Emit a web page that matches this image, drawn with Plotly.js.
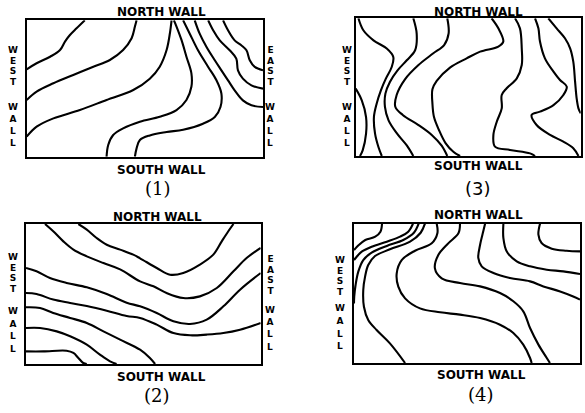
<!DOCTYPE html>
<html>
<head>
<meta charset="utf-8">
<script src="https://cdn.plot.ly/plotly-3.0.1.min.js"></script>
<style>html,body{margin:0;padding:0;background:#fff;}#chart{width:585px;height:413px;}</style>
</head>
<body>
<div id="chart"></div>
<script>
// ---------- DATA (u: west->east 0..100, v: south->north 0..100) ----------
// Panel (1)
const p1_a_u = [0, 4.2, 9.9, 14.1, 16.2, 18.3, 21.1, 24.6];
const p1_a_v = [64.1, 68.5, 73.3, 78.2, 84.4, 89.2, 94.1, 100];
const p1_b_u = [0, 4.2, 11.3, 19.7, 28.2, 35.2, 40.8, 44.4, 45.8, 46.5];
const p1_b_v = [41.6, 47.7, 53.8, 59.9, 66, 70.9, 78.2, 86.8, 95.4, 100];
const p1_c_u = [0, 4.2, 11.3, 22.5, 33.8, 45.1, 52.1, 56.3, 59.2, 60.6, 61.3];
const p1_c_v = [14.7, 22, 28.1, 34.2, 41.6, 48.9, 57.2, 66, 78.2, 90.5, 100];
const p1_d_u = [33.8, 34.5, 36.6, 40.8, 47.9, 56.3, 63.4, 67.6, 69.7, 69.7, 67.6, 65.5, 63.4, 62.3];
const p1_d_v = [0, 8.6, 15.9, 20.8, 25.7, 29.3, 34.2, 41.6, 51.3, 61.1, 73.3, 85.6, 95.4, 100];
const p1_e_u = [45.8, 46.5, 47.9, 52.1, 59.2, 66.2, 74.6, 79.6, 82, 82.4, 80.3, 76.8, 72.5, 69, 66.2];
const p1_e_v = [0, 6.1, 12.2, 15.6, 18.1, 19.8, 24.2, 29.1, 36.4, 46.2, 56, 65.8, 78, 90.2, 100];
const p1_f_u = [71.1, 73.2, 76.1, 79.6, 82.4, 85.2, 88, 91.5, 95.1, 100];
const p1_f_v = [100, 90.2, 80.4, 70.7, 63.3, 56, 48.7, 41.3, 37.7, 36.4];
const p1_g_u = [76.8, 78.9, 81.7, 85.9, 88.7, 89.4, 91.5, 95.1, 100];
const p1_g_v = [100, 92.7, 85.3, 78, 71.9, 63.3, 57.2, 52.3, 49.9];
const p1_h_u = [83.1, 85.2, 88, 90.8, 93, 94.4, 96.5, 100];
const p1_h_v = [100, 92.7, 85.3, 81.7, 78, 70.7, 65.8, 63.3];

// Panel (2)
const p2_a_u = [8.1, 11.6, 15.9, 20.2, 25.9, 33, 40.1, 48.6, 54.3, 59.9, 67, 74.1, 81.3, 88.4, 94, 100];
const p2_a_v = [100, 94.8, 87.6, 81.7, 76.9, 72.1, 67.6, 59, 55.5, 50.7, 47.1, 48.3, 54.3, 66.2, 75.7, 82.9];
const p2_b_u = [22.3, 25.9, 30.1, 34.4, 40.1, 45.7, 48.6, 55.7, 61.4, 67, 74.1, 79.8, 83.4, 86.2, 88.4];
const p2_b_v = [100, 96, 90, 85.2, 81.7, 78.1, 75.5, 68.6, 63.8, 65, 71, 78.1, 87.6, 94.8, 100];
const p2_c_u = [0, 4.5, 10.2, 17.3, 25.9, 34.4, 42.9, 48.6, 55.7, 62.8, 69.9, 77, 84.1, 91.2, 100];
const p2_c_v = [68.6, 66.2, 61.4, 57.9, 54.8, 50, 43.8, 41.2, 36.4, 30.5, 28.6, 31.7, 41.2, 53.1, 65];
const p2_d_u = [0, 4.5, 11.6, 18.8, 25.9, 34.4, 42.9, 48.6, 55.7, 62.8, 69.9, 77, 84.1, 91.2, 100];
const p2_d_v = [50.7, 50, 46, 43.6, 41.4, 38.1, 34.3, 32.9, 28.1, 22.1, 20.5, 21, 22.1, 24.5, 29.3];
const p2_e_u = [0, 6, 11.6, 18.8, 25.9, 33, 40.1, 48.6, 52.8, 55];
const p2_e_v = [40.5, 40, 36.4, 32.9, 29.3, 23.3, 17.4, 10.2, 4.3, 0];
const p2_f_u = [0, 6, 13.1, 18.8, 25.9, 31.5, 35.8, 38.6];
const p2_f_v = [25.7, 25.7, 23.3, 19.8, 13.8, 6.7, 1.9, 0];
const p2_g_u = [0, 7.4, 17.3, 20.2, 22.3, 24.4, 25.9];
const p2_g_v = [9, 9, 9.5, 7.9, 4.3, 0.7, 0];

// Panel (3)
const p3_a_u = [0, 2.7, 4.6, 4.6, 3.1, 1.9];
const p3_a_v = [48.9, 40.4, 28.3, 16.2, 4.1, 0];
const p3_b_u = [1.2, 3.4, 7.9, 13.8, 16.7, 16, 13.4, 11.2, 9.3, 8.1, 8.6, 10.1, 11.6];
const p3_b_v = [100, 91.3, 84, 78, 71.9, 64.6, 56.2, 47.7, 38, 28.3, 16.2, 6.5, 0];
const p3_c_u = [25.6, 27.1, 26.4, 22.7, 18.6, 15.2, 13.2, 13, 14.6, 18.4, 22.7, 25.6];
const p3_c_v = [100, 88.9, 76.8, 69.5, 62.2, 53.8, 45.3, 35.6, 25.9, 16.2, 7.7, 0];
const p3_d_u = [40.7, 41.3, 39.3, 34.5, 27.9, 21.9, 18.2, 17.6, 20.9, 27.9, 33.8, 38.2, 40.7];
const p3_d_v = [100, 89.1, 80.6, 74.6, 66.1, 55.7, 44.3, 35.8, 29.8, 22.5, 15.3, 7.5, 0];
const p3_e_u = [60.4, 63.4, 65.6, 63.4, 55.3, 49.3, 41.9, 36, 34.1, 34.1, 34.8, 37, 40, 43.4, 46.4];
const p3_e_v = [100, 92.7, 83.1, 79.4, 75.8, 70.9, 64.2, 54.5, 48.4, 38, 28.3, 18.9, 9.2, 3.1, 0];
const p3_f_u = [70.8, 73, 73.8, 73.8, 71.6, 67.1, 64.9, 64.9, 62.7, 61.2, 61.9, 68.6, 77.5, 79.7];
const p3_f_v = [100, 92.7, 78.2, 66.1, 56.4, 49.2, 44.3, 34.6, 24.9, 15.3, 6.8, 4.4, 1.9, 0];
const p3_g_u = [79.7, 81.2, 81.9, 84.1, 87.9, 90.8, 93.8, 92.3, 87.9, 81.9, 78.2, 80.4, 86.4, 92.3, 96.7, 99];
const p3_g_v = [100, 92.7, 83.1, 70.9, 61.3, 55.2, 50.4, 44.3, 37, 32.2, 29.8, 22.5, 15.3, 10.4, 5.6, 0];
const p3_h_u = [85.6, 89.3, 93, 95.3, 96.7, 97.5, 98.2, 99, 100];
const p3_h_v = [100, 92.7, 85.5, 78.2, 68.5, 54, 41.9, 34.6, 31];

// Panel (4)
const p4_a_u = [12.4, 11.7, 9.4, 5, 2.1, 0];
const p4_a_v = [100, 94.3, 90.7, 88.3, 84.7, 81.1];
const p4_b_u = [26.1, 24, 20.4, 14.5, 7.8, 3.4, 1.2, 0];
const p4_b_v = [100, 94.3, 90.7, 87.1, 83.5, 79.9, 76.3, 73.9];
const p4_c_u = [28.6, 26.5, 21.8, 14.5, 7.8, 4.1, 1.9, 0.7, 0.1, 0];
const p4_c_v = [100, 93.5, 88.3, 84, 79.2, 73.9, 65.6, 56, 47.6, 42.8];
const p4_d_u = [31.4, 29.5, 24.8, 15.9, 9.3, 6.3, 4.9, 4.1, 4.4, 6.3, 10, 15.9, 22.6];
const p4_d_v = [100, 93.5, 87.1, 81.6, 76.8, 70.3, 62, 52.4, 40.4, 30.9, 23.7, 14.1, 0];
const p4_e_u = [36.6, 36.9, 34.4, 27, 21.1, 18.9, 19.6, 22.6, 29.2, 38.1, 46.9, 55.8, 64.6, 70.5, 74.9, 77.9, 78.6];
const p4_e_v = [100, 93.1, 85.9, 80.6, 73.9, 64.4, 54.8, 46.4, 39.2, 36.4, 34.7, 32.3, 27.5, 21.5, 13.2, 3.6, 0];
const p4_f_u = [46.9, 46.2, 41.7, 37.3, 35.8, 38.8, 46.9, 55.8, 64.6, 70.5, 74.9, 77.9, 81.6, 85.3, 86.7];
const p4_f_v = [100, 93.1, 85.9, 77.5, 67.9, 60.8, 57.4, 55, 50.2, 44.3, 37.1, 25.1, 13.2, 3.6, 0];
const p4_g_u = [58, 57.2, 55.8, 55, 56.5, 61.7, 69, 77.9, 83.8, 91.2, 97, 100];
const p4_g_v = [100, 94.5, 84.9, 75.4, 69.4, 64.6, 61, 58.6, 55, 51.4, 47.8, 45.5];
const p4_h_u = [66.1, 66.1, 67.6, 72, 77.9, 85.3, 92.6, 100];
const p4_h_v = [100, 89.7, 80.1, 73, 69.4, 67, 65.8, 63.9];
const p4_i_u = [82.3, 81.6, 83, 87.5, 94.1, 100];
const p4_i_v = [100, 92.1, 86.1, 82.1, 80.6, 80.1];

// Text
const northLabel = "NORTH WALL";
const southLabel = "SOUTH WALL";
const westWord1 = "WEST", westWord2 = "WALL";
const eastWord1 = "EAST", eastWord2 = "WALL";
const panelLabels = ["(1)", "(2)", "(3)", "(4)"];

// ---------- BUILD ----------
const W = 585, H = 413;
const panels = [
  {ax: "", lines: [[p1_a_u,p1_a_v],[p1_b_u,p1_b_v],[p1_c_u,p1_c_v],[p1_d_u,p1_d_v],[p1_e_u,p1_e_v],[p1_f_u,p1_f_v],[p1_g_u,p1_g_v],[p1_h_u,p1_h_v]],
   box: [26.7, 263, 20.3, 156.7]},
  {ax: "2", lines: [[p2_a_u,p2_a_v],[p2_b_u,p2_b_v],[p2_c_u,p2_c_v],[p2_d_u,p2_d_v],[p2_e_u,p2_e_v],[p2_f_u,p2_f_v],[p2_g_u,p2_g_v]],
   box: [26, 260.7, 224, 364]},
  {ax: "3", lines: [[p3_a_u,p3_a_v],[p3_b_u,p3_b_v],[p3_c_u,p3_c_v],[p3_d_u,p3_d_v],[p3_e_u,p3_e_v],[p3_f_u,p3_f_v],[p3_g_u,p3_g_v],[p3_h_u,p3_h_v]],
   box: [355.7, 580.7, 18.3, 156]},
  {ax: "4", lines: [[p4_a_u,p4_a_v],[p4_b_u,p4_b_v],[p4_c_u,p4_c_v],[p4_d_u,p4_d_v],[p4_e_u,p4_e_v],[p4_f_u,p4_f_v],[p4_g_u,p4_g_v],[p4_h_u,p4_h_v],[p4_i_u,p4_i_v]],
   box: [354, 580, 223.7, 363]}
];

const traces = [];
const layout = {
  width: W, height: H,
  margin: {l: 0, r: 0, t: 0, b: 0, pad: 0},
  paper_bgcolor: "#fff", plot_bgcolor: "#fff",
  showlegend: false,
  annotations: []
};

panels.forEach(p => {
  const [x0, x1, y0, y1] = p.box;
  const axisBase = {
    range: [0, 100], showgrid: false, zeroline: false, showticklabels: false,
    ticks: "", showline: true, mirror: true, linecolor: "#000", linewidth: 2.2,
    fixedrange: true
  };
  layout["xaxis" + p.ax] = Object.assign({}, axisBase, {domain: [x0 / W, x1 / W], anchor: "y" + p.ax});
  layout["yaxis" + p.ax] = Object.assign({}, axisBase, {domain: [1 - y1 / H, 1 - y0 / H], anchor: "x" + p.ax});
  p.lines.forEach(([u, v]) => {
    traces.push({
      type: "scatter", mode: "lines", x: u, y: v,
      xaxis: "x" + p.ax, yaxis: "y" + p.ax,
      line: {color: "#000", width: 2.1, shape: "spline", smoothing: 1},
      hoverinfo: "skip"
    });
  });
});

const wallFont = {family: "DejaVu Sans", size: 12, color: "#000"};
function txt(s, px, py, font) {
  layout.annotations.push({
    text: s, x: px / W, y: 1 - py / H, xref: "paper", yref: "paper",
    xanchor: "center", yanchor: "middle", showarrow: false, font: font, borderpad: 0
  });
}
// stacked vertical word: one letter per line
function vert(word, px, pyCenter, spacing) {
  const s = word.split("").map(ch => '<b><span style="font-size:9px">' + ch + '</span></b>').join("<br>");
  txt(s, px, pyCenter, {family: "DejaVu Sans", size: spacing / 1.3, color: "#000"});
}

// Panel (1)
txt("<b>" + northLabel + "</b>", 161.7, 12.5, wallFont);
txt("<b>" + southLabel + "</b>", 161.7, 170, wallFont);
vert(westWord1, 13, 66, 10.6);
vert(westWord2, 13, 125, 12);
vert(eastWord1, 270, 66, 10.6);
vert(eastWord2, 270, 125, 12);
txt(panelLabels[0], 158, 188.5, {family: "DejaVu Serif", size: 18, color: "#000"});

// Panel (3)
txt("<b>" + northLabel + "</b>", 478, 12, wallFont);
txt("<b>" + southLabel + "</b>", 478, 165.5, wallFont);
vert(westWord1, 346.7, 65.5, 10.6);
vert(westWord2, 346.7, 125, 12);
txt(panelLabels[2], 478, 188.5, {family: "DejaVu Sans", size: 18, color: "#000"});

// Panel (2)
txt("<b>" + northLabel + "</b>", 157, 216.7, wallFont);
txt("<b>" + southLabel + "</b>", 161.7, 377, wallFont);
vert(westWord1, 13, 273, 10.6);
vert(westWord2, 13, 330, 12.5);
vert(eastWord1, 270, 275, 10.6);
vert(eastWord2, 270, 328, 12.2);
txt(panelLabels[1], 156.7, 395.5, {family: "DejaVu Serif", size: 18, color: "#000"});

// Panel (4)
txt("<b>" + northLabel + "</b>", 478, 215, wallFont);
txt("<b>" + southLabel + "</b>", 481.7, 375, wallFont);
vert(westWord1, 340, 276, 10.6);
vert(westWord2, 340, 327, 12.8);
txt(panelLabels[3], 480.8, 394, {family: "DejaVu Serif", size: 18, color: "#000"});

Plotly.newPlot("chart", traces, layout, {staticPlot: true, displayModeBar: false});
</script>
</body>
</html>
